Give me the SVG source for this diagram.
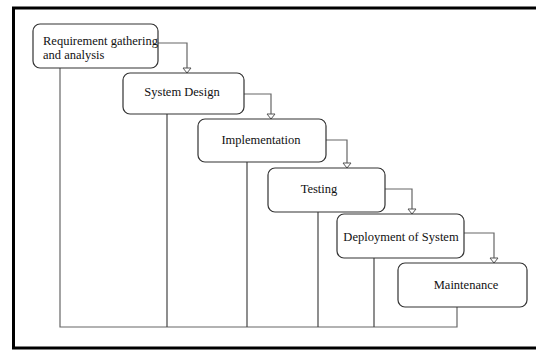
<svg xmlns="http://www.w3.org/2000/svg" width="536" height="352" viewBox="0 0 536 352">
<style>
.box{fill:#fff;stroke:#333;stroke-width:1.2}
.lbl{font-family:"Liberation Serif","Times New Roman",serif;font-size:12.5px;fill:#111}
.c{fill:none;stroke:#666;stroke-width:1.2}
.v{fill:none;stroke:#444;stroke-width:1.2}
</style>
<defs>
<marker id="arr" markerWidth="10" markerHeight="8" refX="5" refY="6" orient="0" markerUnits="userSpaceOnUse">
<path d="M1,1 L9,1 L5,6 Z" fill="#fff" stroke="#555" stroke-width="1"/>
</marker>
</defs>
<rect width="536" height="352" fill="#fff"/>
<rect x="13.5" y="8" width="530" height="340" fill="none" stroke="#000" stroke-width="3"/>
<g id="connectors">
<path class="c" d="M158,43 H187 V73" marker-end="url(#arr)"/>
<path class="c" d="M244,94 H271 V119" marker-end="url(#arr)"/>
<path class="c" d="M326,140 H347 V168" marker-end="url(#arr)"/>
<path class="c" d="M385,189 H412 V214" marker-end="url(#arr)"/>
<path class="c" d="M464,233 H494 V263" marker-end="url(#arr)"/>
<path class="c" d="M60,68 V327 H457 V307"/>
<path class="v" d="M167,114 V327"/>
<path class="v" d="M247,162 V327"/>
<path class="v" d="M318,212 V327"/>
<path class="v" d="M374,258 V327"/>
</g>
<g id="n1">
<rect class="box" x="33" y="24" width="125" height="44" rx="7"/>
<text class="lbl" x="43" y="45">Requirement gathering</text>
<text class="lbl" x="43" y="59">and analysis</text>
</g>
<g id="n2">
<rect class="box" x="123" y="73" width="121" height="41" rx="7"/>
<text class="lbl" x="182" y="96" text-anchor="middle">System Design</text>
</g>
<g id="n3">
<rect class="box" x="198" y="119" width="128" height="43" rx="7"/>
<text class="lbl" x="261" y="144" text-anchor="middle">Implementation</text>
</g>
<g id="n4">
<rect class="box" x="268" y="168" width="117" height="44" rx="7"/>
<text class="lbl" x="319" y="193" text-anchor="middle">Testing</text>
</g>
<g id="n5">
<rect class="box" x="337" y="214" width="127" height="44" rx="7"/>
<text class="lbl" x="401" y="241" text-anchor="middle">Deployment of System</text>
</g>
<g id="n6">
<rect class="box" x="398" y="263" width="129" height="44" rx="7"/>
<text class="lbl" x="466" y="289" text-anchor="middle">Maintenance</text>
</g>
</svg>
